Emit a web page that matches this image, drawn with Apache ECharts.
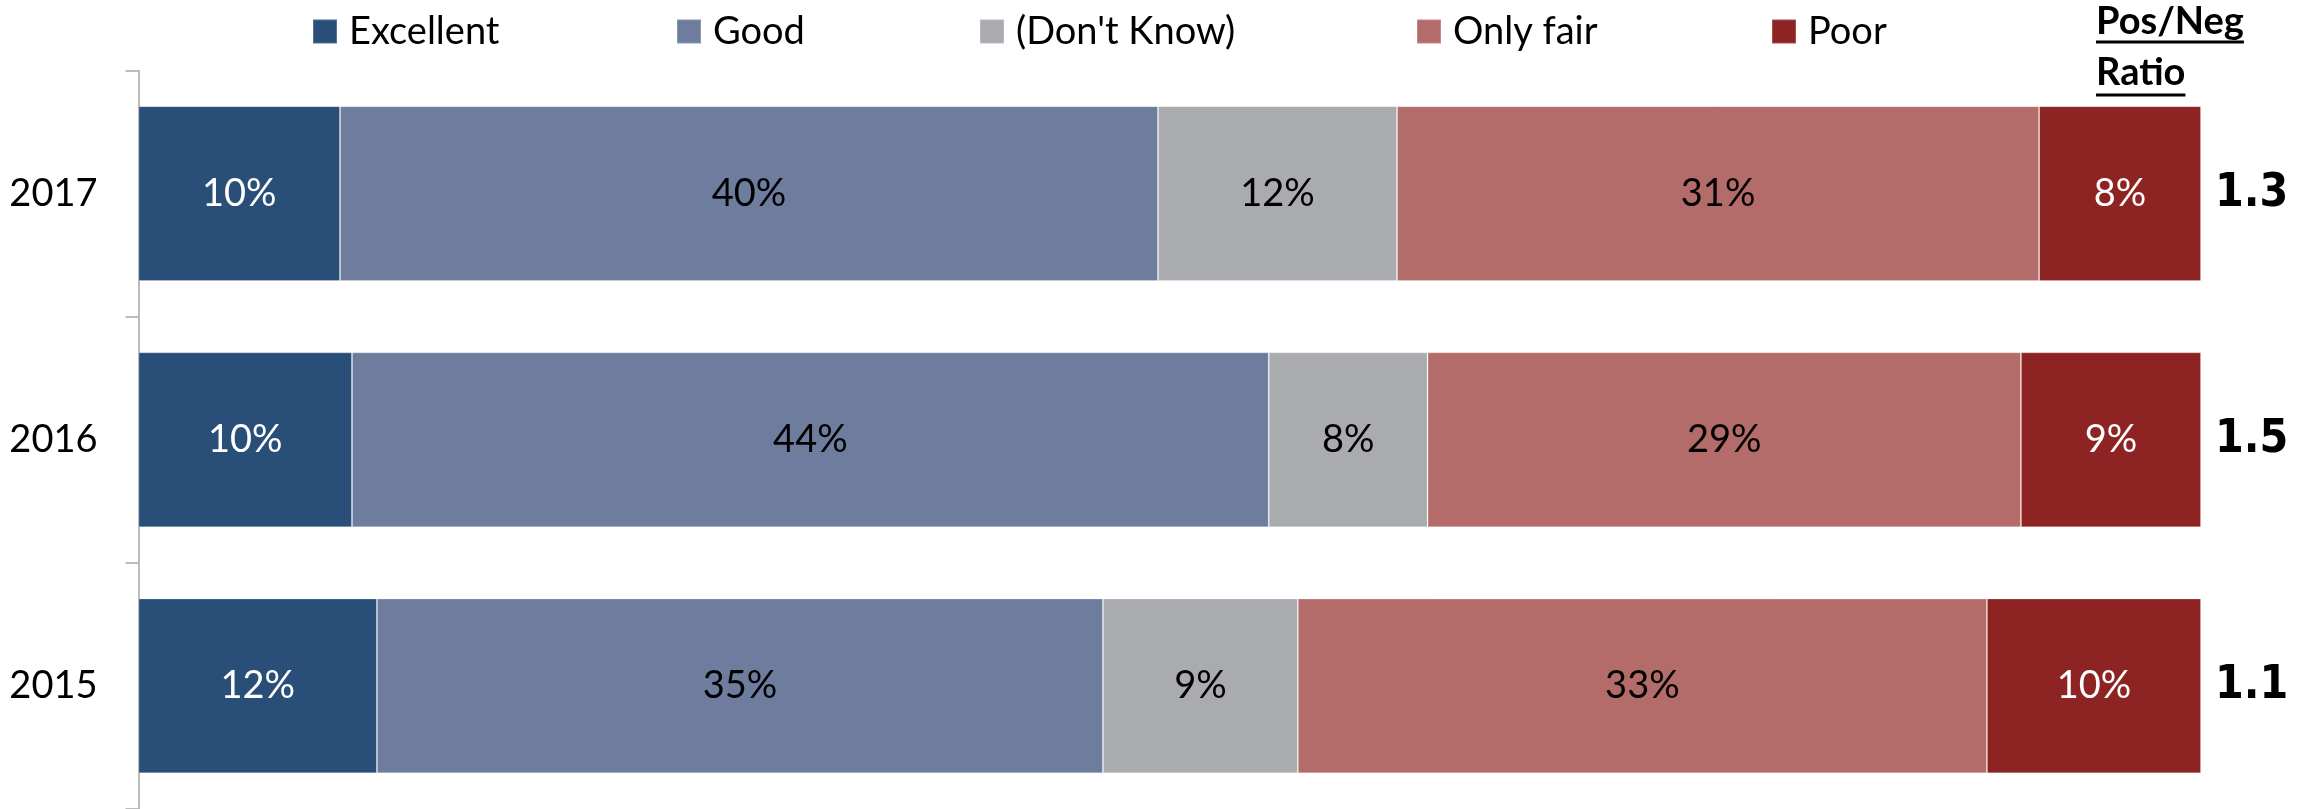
<!DOCTYPE html>
<html>
<head>
<meta charset="utf-8">
<script src="https://cdn.jsdelivr.net/npm/echarts@6/dist/echarts.min.js"></script>
<style>
  html, body { margin: 0; padding: 0; background: #fff; }
  #chart { width: 2310px; height: 809px; }
</style>
</head>
<body>
<div id="chart"></div>
<script>
// ---- data ----
const categories = ['2017', '2016', '2015'];
const seriesNames = ['Excellent', 'Good', "(Don't Know)", 'Only fair', 'Poor'];
const excellent = [9.77, 10.35, 11.56];
const good      = [39.66, 44.45, 35.2];
const dontKnow  = [11.59, 7.7, 9.45];
const onlyFair  = [31.13, 28.77, 33.41];
const poor      = [7.85, 8.73, 10.38];
const ratioLabels = ['1.3', '1.5', '1.1'];
const ratioTitle = ['Pos/Neg', 'Ratio'];

// ---- styling ----
const colors = ['#294F78', '#6E7C9E', '#AAABAF', '#B36C69', '#8D2323'];
const labelColors = ['#ffffff', '#000000', '#000000', '#000000', '#ffffff'];
const legendLeft = [312, 676, 979, 1416, 1771];
const FONT = 'Lato, "Open Sans", sans-serif';

const values = [excellent, good, dontKnow, onlyFair, poor];

const chart = echarts.init(document.getElementById('chart'));

const barSeries = seriesNames.map((name, k) => ({
  name: name,
  type: 'bar',
  stack: 'total',
  barCategoryGap: '29%',
  data: values[k],
  itemStyle: { color: colors[k], borderColor: 'rgba(255,255,255,0.2)', borderWidth: 1 },
  label: {
    show: true,
    position: 'inside',
    color: labelColors[k],
    fontFamily: FONT,
    fontSize: 38,
    formatter: p => Math.round(p.value) + '%'
  },
  emphasis: { disabled: true }
}));

const ratioSeries = {
  name: 'ratio',
  type: 'scatter',
  symbolSize: 0,
  silent: true,
  itemStyle: { opacity: 1 },
  data: categories.map((c, i) => [100, i]),
  label: {
    show: true,
    position: 'right',
    distance: 14,
    color: '#000000',
    opacity: 1,
    textBorderWidth: 0,
    fontFamily: '"DejaVu Sans Condensed", "DejaVu Sans", sans-serif',
    fontWeight: 'bold',
    fontSize: 46,
    formatter: p => ratioLabels[p.dataIndex]
  }
};

const legends = seriesNames.map((name, k) => ({
  data: [name],
  left: legendLeft[k],
  top: 12.5,
  padding: 0,
  itemWidth: 24,
  itemHeight: 24,
  icon: 'rect',
  selectedMode: false,
  textStyle: { fontFamily: FONT, fontSize: 38, color: '#000', padding: [0, 0, 0, 7] }
}));

// measure title text width for underlines
const ctx = document.createElement('canvas').getContext('2d');
const titleFont = 'bold 38px Lato';
ctx.font = titleFont;
const titleX = 2096;
const titleY = [25.8, 77];
const underY = [42, 95];
const graphics = [];
ratioTitle.forEach((t, i) => {
  const w = ctx.measureText(t).width;
  graphics.push({
    type: 'text',
    left: titleX,
    top: titleY[i] - 23,
    style: { text: t, font: titleFont, fill: '#000' }
  });
  graphics.push({
    type: 'line',
    shape: { x1: titleX, y1: underY[i], x2: titleX + w, y2: underY[i] },
    style: { stroke: '#000', lineWidth: 3 }
  });
});

chart.setOption({
  animation: false,
  backgroundColor: '#ffffff',
  legend: legends,
  grid: { left: 138.5, right: 109, top: 70.5, bottom: 0, containLabel: false },
  xAxis: { type: 'value', min: 0, max: 100, show: false },
  yAxis: {
    type: 'category',
    inverse: true,
    data: categories,
    axisLine: { show: true, lineStyle: { color: '#A6A6A6', width: 1.5 } },
    axisTick: { show: true, length: 13, lineStyle: { color: '#A6A6A6', width: 1.5 } },
    axisLabel: { color: '#000', fontFamily: FONT, fontSize: 38, margin: 41 },
    splitLine: { show: false }
  },
  graphic: graphics,
  series: [...barSeries, ratioSeries]
});
</script>
</body>
</html>
